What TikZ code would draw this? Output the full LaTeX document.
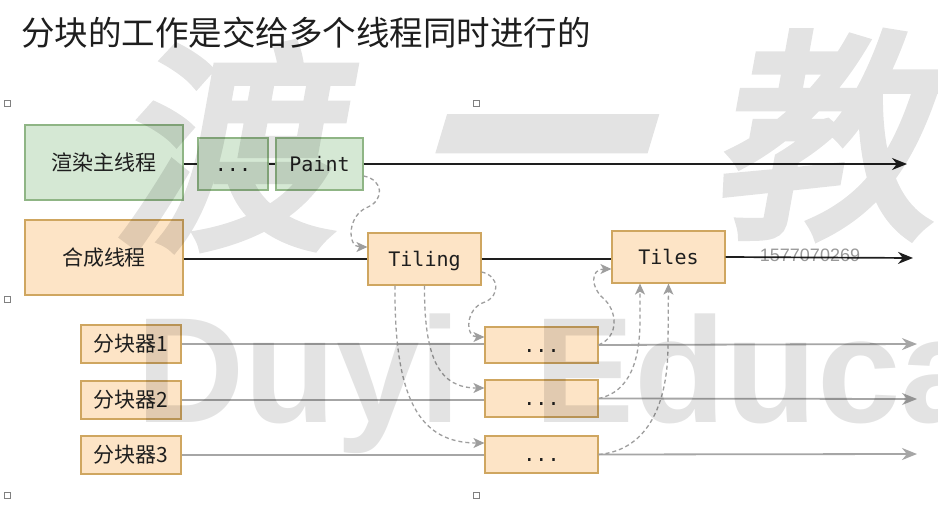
\documentclass[tikz,border=0pt]{standalone}
\usepackage{fontspec}
\setmainfont{Noto Sans CJK SC}
\newfontfamily\cjk{Noto Sans CJK SC}
\newfontfamily\cjkwm{Noto Sans CJK SC}[FakeBold=4]
\newfontfamily\monof{DejaVu Sans Mono}
\newfontfamily\wmlat{Liberation Sans}
\usetikzlibrary{arrows.meta,calc}
\definecolor{gfill}{HTML}{D5E8D4}
\definecolor{gdraw}{HTML}{8FB585}
\definecolor{ofill}{HTML}{FDE4C6}
\definecolor{odraw}{HTML}{CFA660}
\definecolor{lgray}{HTML}{A6A6A6}
\definecolor{dgray}{HTML}{9E9E9E}
\definecolor{ink}{HTML}{1E1E1E}
\tikzset{
 box/.style={draw, line width=1.2pt, inner sep=0pt, anchor=center},
 gbox/.style={box, fill=gfill, draw=gdraw},
 obox/.style={box, fill=ofill, draw=odraw},
 cjklabel/.style={font=\cjk\fontsize{21}{24}\selectfont, text=ink},
 monolabel/.style={font=\monof\fontsize{20}{24}\selectfont, text=ink, text height=14.5pt, text depth=0pt},
 mainline/.style={draw=ink, line width=1.7pt},
 mainarrow/.style={mainline, -{Stealth[length=15pt,width=12pt]}},
 subline/.style={draw=lgray, line width=1.8pt},
 subarrow/.style={subline, -{Stealth[length=15pt,width=12pt]}},
 flow/.style={draw=dgray, line width=1.3pt, dash pattern=on 4pt off 3pt, -{Stealth[length=11pt,width=10pt,inset=3pt]}},
 handle/.style={draw=gray, fill=white, line width=0.7pt, minimum size=6pt, inner sep=0pt},
 wm/.style={text=black, inner sep=0pt},
}
\begin{document}
\begin{tikzpicture}[x=1pt,y=-1pt]
\useasboundingbox[fill=white] (0,0) rectangle (938,519);
% title
\node[anchor=west, font=\cjk\fontsize{33.5}{36}\selectfont, text=ink, inner sep=0pt] (title) at (21,33) {分块的工作是交给多个线程同时进行的};
% handles
\node[handle] (h1) at (7,103) {};
\node[handle] (h2) at (476,103) {};
\node[handle] (h3) at (7,299) {};
\node[handle] (h4) at (7,495) {};
\node[handle] (h5) at (476,495) {};
% main thread row
\node[gbox, cjklabel, minimum width=158pt, minimum height=75pt] (render) at (104,162.5) {渲染主线程};
\node[gbox, monolabel, minimum width=70pt, minimum height=52pt] (dotsA) at (233,164) {...};
\node[gbox, monolabel, minimum width=87pt, minimum height=52pt] (paint) at (319.5,164) {Paint};
% compositor row
\node[obox, cjklabel, minimum width=158pt, minimum height=75pt] (comp) at (104,257.5) {合成线程};
\node[obox, monolabel, minimum width=113pt, minimum height=52pt] (tiling) at (424.5,259) {Tiling};
\node[obox, monolabel, minimum width=113pt, minimum height=52pt] (tiles) at (668.5,257) {Tiles};
% tilers
\node[obox, cjklabel, minimum width=100pt, minimum height=38pt] (s1) at (131,344) {分块器1};
\node[obox, cjklabel, minimum width=100pt, minimum height=38pt] (s2) at (131,400) {分块器2};
\node[obox, cjklabel, minimum width=100pt, minimum height=38pt] (s3) at (131,455) {分块器3};
\node[obox, monolabel, minimum width=113pt, minimum height=36pt] (d1) at (541.5,345) {...};
\node[obox, monolabel, minimum width=113pt, minimum height=37pt] (d2) at (541.5,398.5) {...};
\node[obox, monolabel, minimum width=113pt, minimum height=37pt] (d3) at (541.5,454.5) {...};
% ends
\coordinate (endA) at (907,164);
\coordinate (endB) at (913,258);
\coordinate (end1) at (917,344);
\coordinate (end2) at (917,399);
\coordinate (end3) at (917,454);
% solid lines
\draw[mainline] (render.east |- dotsA.west) -- (dotsA.west);
\draw[mainline] (dotsA.east) -- (paint.west);
\draw[mainarrow] (paint.east) -- (endA);
\draw[mainline] (comp.east |- tiling.west) -- (tiling.west);
\draw[mainline] (tiling.east) -- (tiling.east -| tiles.west);
\draw[mainarrow] (tiles.east) -- (endB);
\draw[subline] (s1.east) -- (s1.east -| d1.west);
\draw[subline] (s2.east) -- (s2.east -| d2.west);
\draw[subline] (s3.east) -- (s3.east -| d3.west);
\draw[subarrow] (d1.east) -- (end1);
\draw[subarrow] (d2.east) -- (end2);
\draw[subarrow] (d3.east) -- (end3);
% dashed flows
\draw[flow] ([yshift=-12pt]paint.east) .. controls (384,180) and (384,200) .. (368,207) .. controls (347,215) and (347,247) .. ([yshift=12pt]tiling.west);
\draw[flow] ([xshift=-29.5pt]tiling.south) .. controls (394,400) and (420,443) .. ([yshift=11.5pt]d3.west);
\draw[flow] (tiling.south) .. controls (424,360) and (440,388) .. ([yshift=10.5pt]d2.west);
\draw[flow] ([yshift=-13pt]tiling.east) .. controls (500,276) and (500,296) .. (485,302) .. controls (465,308) and (465,337) .. ([yshift=8pt]d1.west);
\draw[flow] (d1.east) .. controls (620,336) and (617,310) .. (603,298) .. controls (591,288) and (590,269) .. ([yshift=-12pt]tiles.west);
\draw[flow] (d2.east) .. controls (630,392) and (640,360) .. (640,320) -- ([xshift=-28.5pt]tiles.south);
\draw[flow] (d3.east) .. controls (650,450) and (668,400) .. (668,345) -- (tiles.south);
% watermark
\begin{scope}
\clip (0,0) rectangle (938,519);
\begin{scope}[transparency group, opacity=0.11]
\node[wm, font=\cjkwm\fontsize{222}{222}\selectfont, xslant=0.18] (wm1) at (240,146) {渡};
\node[wm, font=\cjkwm\fontsize{222}{222}\selectfont, xslant=0.3, yscale=1.45] (wm2) at (530,190) {一};
\node[wm, font=\cjkwm\fontsize{222}{222}\selectfont, xslant=0.18] (wm3) at (838,135) {教};
\node[wm, anchor=base west, font=\wmlat\bfseries\fontsize{150}{150}\selectfont] (wm4) at (136,422) {Duyi};
\node[wm, anchor=base west, font=\wmlat\bfseries\fontsize{150}{150}\selectfont] (wm5) at (534,422) {Education};
\end{scope}
\end{scope}
\node[text=black, opacity=0.4, font=\wmlat\fontsize{18}{18}\selectfont, inner sep=0pt] (uid) at (810,255) {1577070269};
\end{tikzpicture}
\end{document}
